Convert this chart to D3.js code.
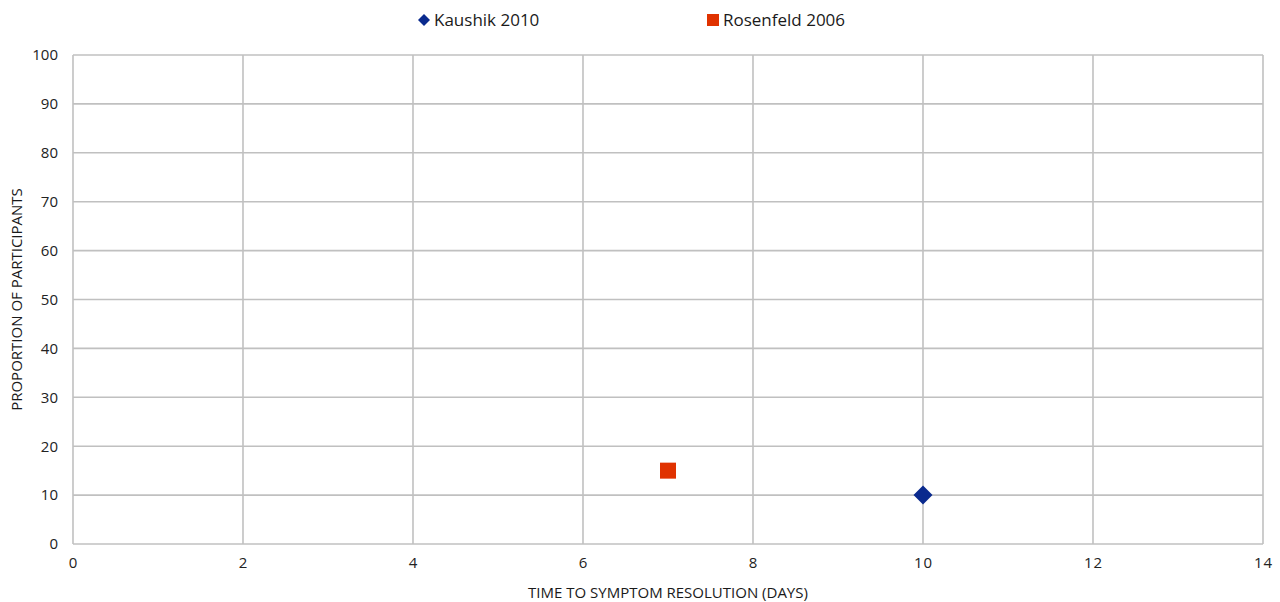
<!DOCTYPE html>
<html>
<head>
<meta charset="utf-8">
<script src="https://cdn.jsdelivr.net/npm/d3@7/dist/d3.min.js"></script>
<style>
  html, body { margin: 0; padding: 0; background: #fff; }
  svg { display: block; font-family: "Open Sans", "Liberation Sans", sans-serif; }
</style>
</head>
<body>
<svg id="chart" width="1280" height="602"></svg>
<script>
// Study results: time to symptom resolution vs proportion of participants
const seriesNames = ["Kaushik 2010", "Rosenfeld 2006"];
const seriesDays = [10, 7];
const seriesProportion = [10, 15];
const seriesColors = ["#0a2a8e", "#e03200"];
const seriesShapes = ["diamond", "square"];

const xTicks = [0, 2, 4, 6, 8, 10, 12, 14];
const yTicks = [0, 10, 20, 30, 40, 50, 60, 70, 80, 90, 100];

const margin = { left: 73, right: 17, top: 55, bottom: 58 };
const W = 1280, H = 602;

const svg = d3.select("#chart");

const x = d3.scaleLinear().domain([0, 14]).range([margin.left, W - margin.right]);
const y = d3.scaleLinear().domain([0, 100]).range([H - margin.bottom, margin.top]);

const gridColor = "#c0c0c0";

// Horizontal gridlines
svg.append("g")
  .selectAll("line")
  .data(yTicks)
  .join("line")
  .attr("x1", x(0)).attr("x2", x(14))
  .attr("y1", d => y(d)).attr("y2", d => y(d))
  .attr("stroke", gridColor).attr("stroke-width", 1.6);

// Vertical gridlines
svg.append("g")
  .selectAll("line")
  .data(xTicks)
  .join("line")
  .attr("x1", d => x(d)).attr("x2", d => x(d))
  .attr("y1", y(0)).attr("y2", y(100))
  .attr("stroke", gridColor).attr("stroke-width", 1.6);

// Y axis tick labels
const yAxis = d3.axisLeft(y).tickValues(yTicks).tickSize(0).tickPadding(15);
svg.append("g")
  .attr("transform", `translate(${x(0)},0)`)
  .call(yAxis)
  .call(g => g.select(".domain").remove())
  .call(g => g.selectAll("text")
    .attr("font-size", 15).attr("fill", "#222")
    .attr("font-family", "'Open Sans', 'Liberation Sans', sans-serif"));

// X axis tick labels
const xAxis = d3.axisBottom(x).tickValues(xTicks).tickSize(0).tickPadding(13);
svg.append("g")
  .attr("transform", `translate(0,${y(0)})`)
  .call(xAxis)
  .call(g => g.select(".domain").remove())
  .call(g => g.selectAll("text")
    .attr("font-size", 15).attr("fill", "#222").attr("letter-spacing", 1)
    .attr("font-family", "'Open Sans', 'Liberation Sans', sans-serif"));

// Axis titles
svg.append("text")
  .attr("x", (x(0) + x(14)) / 2 + 0).attr("y", 598)
  .attr("text-anchor", "middle")
  .attr("font-size", 15).attr("fill", "#1a1a1a")
  .text("TIME TO SYMPTOM RESOLUTION (DAYS)");

svg.append("text")
  .attr("transform", `translate(22,${(y(0) + y(100)) / 2}) rotate(-90)`)
  .attr("text-anchor", "middle")
  .attr("font-size", 15).attr("fill", "#1a1a1a")
  .text("PROPORTION OF PARTICIPANTS");

// Data markers
const points = seriesNames.map((name, i) => ({
  name, day: seriesDays[i], value: seriesProportion[i],
  color: seriesColors[i], shape: seriesShapes[i]
}));

const symbolPath = (shape, size) => {
  const h = size / 2;
  if (shape === "diamond") {
    return `M0,${-h}L${h},0L0,${h}L${-h},0Z`;
  }
  return `M${-h},${-h}H${h}V${h}H${-h}Z`;
};

svg.append("g")
  .selectAll("path")
  .data(points)
  .join("path")
  .attr("transform", d => `translate(${x(d.day)},${y(d.value)})`)
  .attr("d", d => symbolPath(d.shape, d.shape === "diamond" ? 19 : 16))
  .attr("fill", d => d.color);

// Legend
const legendX = [424, 713];
const legend = svg.append("g")
  .selectAll("g")
  .data(points)
  .join("g")
  .attr("transform", (d, i) => `translate(${legendX[i]},20)`);

legend.append("path")
  .attr("d", d => symbolPath(d.shape, 12))
  .attr("fill", d => d.color);

legend.append("text")
  .attr("x", 10).attr("y", 6)
  .attr("font-size", 17).attr("fill", "#1a1a1a")
  .text(d => d.name);
</script>
</body>
</html>
